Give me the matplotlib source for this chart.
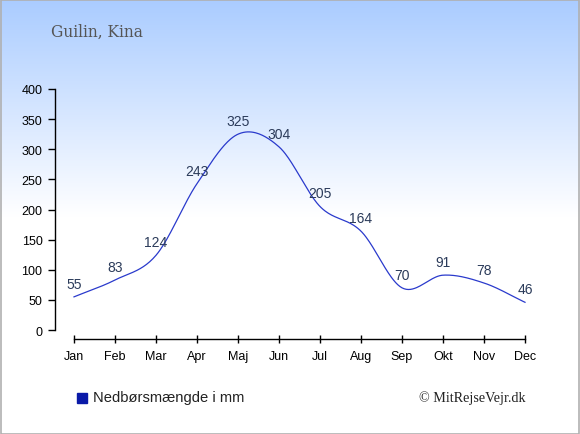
import numpy as np
import matplotlib
matplotlib.use("Agg")
import matplotlib.pyplot as plt
from matplotlib.colors import LinearSegmentedColormap

months = ["Jan", "Feb", "Mar", "Apr", "Maj", "Jun", "Jul", "Aug", "Sep", "Okt", "Nov", "Dec"]
precip = [55, 83, 124, 243, 325, 304, 205, 164, 70, 91, 78, 46]
yticks = [0, 50, 100, 150, 200, 250, 300, 350, 400]
title = "Guilin, Kina"
legend_label = "Nedbørsmængde i mm"
credit = "© MitRejseVejr.dk"

W, H = 580, 435
fig = plt.figure(figsize=(W / 100, H / 100), dpi=100)

# background gradient
bg = fig.add_axes([0, 0, 1, 1], zorder=-10)
cmap = LinearSegmentedColormap.from_list("bg", [(0, "#ffffff"), (0.5, "#ffffff"), (1, "#aaccff")])
grad = np.linspace(0, 1, 256).reshape(-1, 1)
bg.imshow(grad, aspect="auto", cmap=cmap, origin="lower", extent=[0, 1, 0, 1])
bg.set_xlim(0, 1); bg.set_ylim(0, 1)
bg.axis("off")
bg.add_patch(plt.Rectangle((0.5 / W, 0.5 / H), 1 - 1.5 / W, 1 - 1.5 / H, fill=False,
                           edgecolor="#b0b0b0", lw=1.2, transform=bg.transAxes))

# main axes: y spine at x=55, top at y=90, x axis line at y=340, Dec at x=525
left, right = 55 / W, 525 / W
top, bottom = 90 / H, 340 / H
ax = fig.add_axes([left, 1 - bottom, right - left, bottom - top])
ax.patch.set_alpha(0)

x = np.arange(len(months))
xmin = -19 / 41.0
ax.set_xlim(xmin, 11)
px_per_unit = 241 / 400
ax.set_ylim(-9 / px_per_unit, 400)


def catmull_rom(xs, ys, n=40):
    xs = np.asarray(xs, float); ys = np.asarray(ys, float)
    px = np.concatenate([[2 * xs[0] - xs[1]], xs, [2 * xs[-1] - xs[-2]]])
    py = np.concatenate([[2 * ys[0] - ys[1]], ys, [2 * ys[-1] - ys[-2]]])
    ox, oy = [], []
    t = np.linspace(0, 1, n)
    for i in range(1, len(px) - 2):
        p0, p1, p2, p3 = py[i - 1], py[i], py[i + 1], py[i + 2]
        q0, q1, q2, q3 = px[i - 1], px[i], px[i + 1], px[i + 2]
        f = lambda a0, a1, a2, a3: 0.5 * ((2 * a1) + (-a0 + a2) * t +
                                          (2 * a0 - 5 * a1 + 4 * a2 - a3) * t ** 2 +
                                          (-a0 + 3 * a1 - 3 * a2 + a3) * t ** 3)
        ox.append(f(q0, q1, q2, q3)); oy.append(f(p0, p1, p2, p3))
    return np.concatenate(ox), np.concatenate(oy)


sx, sy = catmull_rom(x, precip)
ax.plot(sx, sy, color="#2a3acc", lw=0.9, clip_on=False)

for xi, v in zip(x, precip):
    ax.annotate(str(v), (xi, v), xytext=(0, 13), textcoords="offset pixels",
                ha="center", va="center", fontsize=10, color="#2b3b5a",
                family="Liberation Sans", annotation_clip=False)

for s in ["top", "right"]:
    ax.spines[s].set_visible(False)
ax.spines["left"].set_bounds(0, 400)
ax.spines["bottom"].set_bounds(0, 11)
ax.spines["left"].set_linewidth(1)
ax.spines["bottom"].set_linewidth(1)
ax.set_yticks(yticks)
ax.set_yticklabels([str(t) for t in yticks], family="Liberation Sans", fontsize=9)
ax.set_xticks(x)
ax.set_xticklabels(months, family="Liberation Sans", fontsize=9)
ax.tick_params(axis="y", direction="out", length=5, width=1, pad=4, colors="black")
ax.tick_params(axis="x", direction="inout", length=6, width=1, pad=5, colors="black")

fig.text(51 / W, 1 - 32 / H, title, family="DejaVu Serif", fontsize=11.2,
         color="#555555", ha="left", va="center")

fig.patches.append(plt.Rectangle((77 / W, 1 - 404 / H), 10 / W, 10 / H,
                                 transform=fig.transFigure, color="#0a1aa8",
                                 figure=fig))
fig.text(93 / W, 1 - 398 / H, legend_label, family="Liberation Sans", fontsize=10.6,
         color="#222222", ha="left", va="center")
fig.text(526 / W, 1 - 398 / H, credit, family="Liberation Serif", fontsize=10.2,
         color="#222222", ha="right", va="center")

fig.savefig("out.png", dpi=100)
